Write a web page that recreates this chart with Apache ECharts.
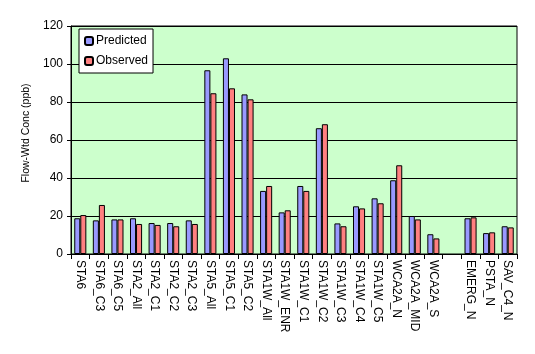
<!DOCTYPE html>
<html>
<head>
<meta charset="utf-8">
<script src="https://cdn.jsdelivr.net/npm/echarts@6/dist/echarts.min.js"></script>
<style>
  html, body { margin: 0; padding: 0; background: #fff; }
  #chart { width: 535px; height: 354px; }
</style>
</head>
<body>
<div id="chart"></div>
<script>
// site names (one blank slot before EMERG_N, as in the original)
const sites = ['STA6', 'STA6_C3', 'STA6_C5', 'STA2_All', 'STA2_C1', 'STA2_C2', 'STA2_C3',
  'STA5_All', 'STA5_C1', 'STA5_C2', 'STA1W_All', 'STA1W_ENR', 'STA1W_C1', 'STA1W_C2',
  'STA1W_C3', 'STA1W_C4', 'STA1W_C5', 'WCA2A_N', 'WCA2A_MID', 'WCA2A_S', '',
  'EMERG_N', 'PSTA_N', 'SAV_C4_N'];
const predicted = [18.8, 17.7, 18.2, 18.8, 16.3, 16.3, 17.7, 96.7, 103, 84, 33.2, 21.9,
  35.8, 66.2, 16.1, 25.1, 29.3, 38.8, 20, 10.4, null, 18.8, 11, 14.6];
const observed = [20.5, 25.8, 18.2, 15.8, 15.3, 14.6, 15.8, 84.6, 87.2, 81.4, 35.8, 23,
  33.2, 68.3, 14.6, 24, 26.7, 46.7, 18.2, 8.2, null, 19.3, 11.4, 14];
const yTicks = [0, 20, 40, 60, 80, 100, 120];

const font = 'Liberation Sans, Arial, sans-serif';
const chart = echarts.init(document.getElementById('chart'));

chart.setOption({
  animation: false,
  textStyle: { fontFamily: font },
  grid: {
    left: 71, right: 18, top: 26, bottom: 100,
    show: true,
    backgroundColor: '#CCFFCC',
    borderColor: '#000',
    borderWidth: 1
  },
  legend: {
    orient: 'vertical',
    left: 79, top: 29,
    itemWidth: 8, itemHeight: 8,
    itemGap: 8,
    padding: [6, 5, 6, 5],
    backgroundColor: '#fff',
    borderColor: '#000',
    borderWidth: 1,
    textStyle: { fontFamily: font, fontSize: 12, color: '#000', padding: [0, 0, 0, -2] },
    data: ['Predicted', 'Observed']
  },
  xAxis: {
    type: 'category',
    data: sites,
    axisLine: { lineStyle: { color: '#000' } },
    axisTick: { show: true, alignWithLabel: false, length: 5, lineStyle: { color: '#000' } },
    axisLabel: {
      rotate: -90,
      interval: 0,
      margin: 6,
      fontFamily: font,
      fontSize: 12,
      color: '#000'
    }
  },
  yAxis: {
    type: 'value',
    min: yTicks[0],
    max: yTicks[yTicks.length - 1],
    interval: 20,
    name: 'Flow-Wtd Conc (ppb)',
    nameLocation: 'middle',
    nameGap: 37,
    nameTextStyle: { fontFamily: font, fontSize: 10.5, color: '#000', padding: [0, 0, 0, 14] },
    axisLine: { show: true, lineStyle: { color: '#000' } },
    axisTick: { show: true, length: 4, lineStyle: { color: '#000' } },
    splitLine: { lineStyle: { color: '#000', width: 1 } },
    axisLabel: { fontFamily: font, fontSize: 12, color: '#000', margin: 8 }
  },
  series: [
    {
      name: 'Predicted',
      type: 'bar',
      data: predicted,
      barGap: '0%',
      barCategoryGap: '35%',
      itemStyle: { color: '#9999FF', borderColor: '#000', borderWidth: 1 }
    },
    {
      name: 'Observed',
      type: 'bar',
      data: observed,
      itemStyle: { color: '#FF8080', borderColor: '#000', borderWidth: 1 }
    }
  ]
});
</script>
</body>
</html>
